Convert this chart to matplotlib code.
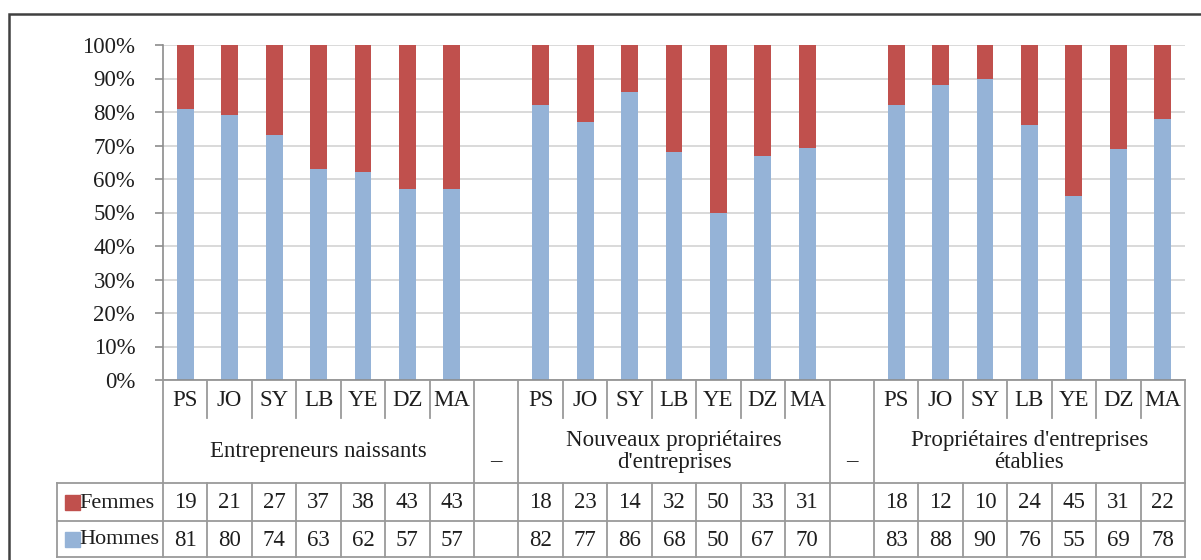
import matplotlib
matplotlib.use("Agg")
import matplotlib.pyplot as plt
from matplotlib.patches import Rectangle

countries = ["PS", "JO", "SY", "LB", "YE", "DZ", "MA"]
groups = ["Entrepreneurs naissants",
          "Nouveaux propriétaires\nd'entreprises",
          "Propriétaires d'entreprises\nétablies"]
femmes = [[19, 21, 27, 37, 38, 43, 43],
          [18, 23, 14, 32, 50, 33, 31],
          [18, 12, 10, 24, 45, 31, 22]]
hommes = [[81, 80, 74, 63, 62, 57, 57],
          [82, 77, 86, 68, 50, 67, 70],
          [83, 88, 90, 76, 55, 69, 78]]
series_names = ["Femmes", "Hommes"]

BLUE = "#95B3D7"
RED = "#C0504D"
GRID = "#D9D9D9"
LINE = "#9A9A9A"
TXT = "#1e1e1e"
FONT = ["Liberation Serif", "DejaVu Serif"]
FS = 16.5

plt.rcParams["font.family"] = FONT

W, H = 1201, 560
fig = plt.figure(figsize=(W / 100, H / 100), dpi=100)

n_slots = len(groups) * (len(countries) + 1) - 1
ax_l, ax_r, ax_b, ax_t = 163, 1185, 380, 45
slot_px = (ax_r - ax_l) / n_slots

ax = fig.add_axes([ax_l / W, (H - ax_b) / H, (ax_r - ax_l) / W, (ax_b - ax_t) / H])
ax.set_xlim(0, n_slots)
ax.set_ylim(0, 1)

for g in range(len(groups)):
    start = g * (len(countries) + 1)
    for i in range(len(countries)):
        x = start + i + 0.5
        tot = femmes[g][i] + hommes[g][i]
        h = hommes[g][i] / tot
        f = femmes[g][i] / tot
        ax.bar(x, h, width=0.38, color=BLUE, zorder=2)
        ax.bar(x, f, bottom=h, width=0.38, color=RED, zorder=2)

ax.set_yticks([i / 10 for i in range(11)])
ax.set_yticklabels([f"{i * 10}%" for i in range(11)], fontsize=FS, color=TXT)
ax.set_xticks([])
ax.yaxis.grid(True, color=GRID, lw=1.4)
ax.set_axisbelow(True)
ax.tick_params(axis="y", length=6, width=1.2, color="#8C8C8C", pad=14)
for s in ["top", "right"]:
    ax.spines[s].set_visible(False)
ax.spines["left"].set_color("#8C8C8C")
ax.spines["bottom"].set_color("#8C8C8C")
ax.spines["left"].set_linewidth(1.2)
ax.spines["bottom"].set_linewidth(1.2)

# ---- data table below the axis ----
tab_l, tab_bot = 57, 557
tab = fig.add_axes([tab_l / W, (H - tab_bot) / H, (ax_r - tab_l) / W, (tab_bot - ax_b) / H])
x0 = -(ax_l - tab_l) / slot_px
tab.set_xlim(x0, n_slots)
tab.set_ylim(tab_bot - ax_b, 0)
tab.axis("off")

r_country, r_group, r_fem, r_hom = 38, 103, 141, 177
kw = dict(color=LINE, lw=1.3, clip_on=False)

# horizontal rules
for y in [r_group, r_fem, r_hom]:
    tab.plot([x0, n_slots], [y, y], **kw)
tab.plot([x0, x0], [r_group, r_hom], **kw)

for s in range(n_slots + 1):
    boundary = s % (len(countries) + 1) in (0, len(countries)) or s == n_slots
    if boundary:
        tab.plot([s, s], [0, r_hom], **kw)
    else:
        tab.plot([s, s], [0, r_country], **kw)
        tab.plot([s, s], [r_group, r_hom], **kw)

for g, name in enumerate(groups):
    start = g * (len(countries) + 1)
    for i, c in enumerate(countries):
        x = start + i + 0.5
        tab.text(x, r_country / 2 + 1, c, ha="center", va="center",
                 fontsize=FS, color=TXT)
        tab.text(x, (r_group + r_fem) / 2 + 1, str(femmes[g][i]),
                 ha="center", va="center", fontsize=FS, color=TXT)
        tab.text(x, (r_fem + r_hom) / 2 + 1, str(hommes[g][i]),
                 ha="center", va="center", fontsize=FS, color=TXT)
    tab.text(start + len(countries) / 2, (r_country + r_group) / 2 + 1, name,
             ha="center", va="center", fontsize=FS, color=TXT, linespacing=1.05)
    if g < len(groups) - 1:
        tab.text(start + len(countries) + 0.5, (r_country + r_group) / 2 + 11,
                 "–", ha="center", va="center", fontsize=FS, color=TXT)

sq_px = 15
for name, y0, y1, col in [(series_names[0], r_group, r_fem, RED),
                          (series_names[1], r_fem, r_hom, BLUE)]:
    yc = (y0 + y1) / 2
    tab.add_patch(Rectangle((x0 + 8 / slot_px, yc - sq_px / 2), sq_px / slot_px, sq_px,
                            color=col, clip_on=False))
    tab.text(x0 + 22 / slot_px, yc + 1, name, ha="left", va="center",
             fontsize=FS - 0.5, color=TXT)

# outer frame
fig.patches.append(Rectangle((9 / W, -0.1), 1.2, (H - 14) / H + 0.1,
                             transform=fig.transFigure, fill=False,
                             edgecolor="#404040", lw=1.8))

fig.savefig("out.png", dpi=100)
